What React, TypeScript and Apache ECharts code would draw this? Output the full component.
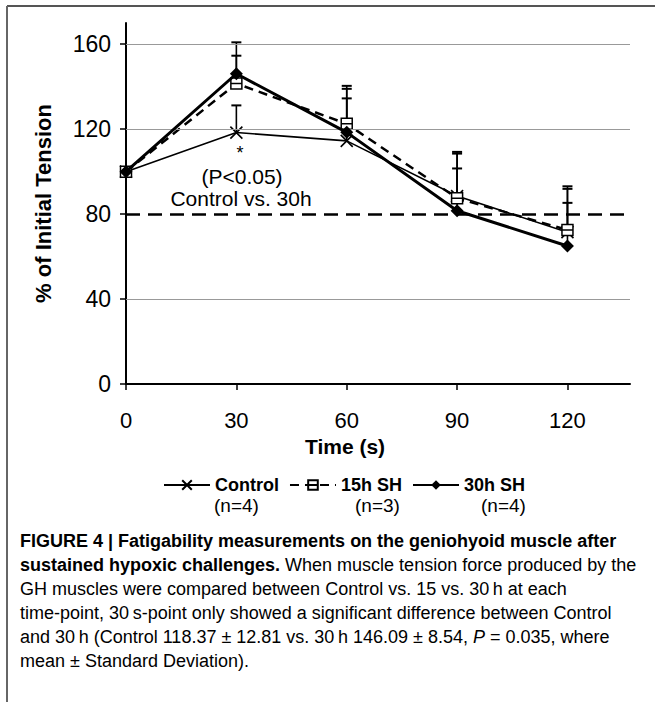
import React, { useEffect, useRef } from "react";
import * as echarts from "echarts";

const times = [0, 30, 60, 90, 120];
const xTicks = [0, 30, 60, 90, 120];
const yTicks = [0, 40, 80, 120, 160];
const controlMean = [100, 118.4, 114.5, 88.5, 71.5];
const controlTop = [100, 131.2, 134.5, 109.3, 91.9];
const sh15Mean = [100, 141.5, 122.5, 87.5, 72.5];
const sh15Top = [100, 160.9, 140.4, 108.5, 93.1];
const sh30Mean = [100, 146.1, 118.5, 81.6, 65];
const sh30Top = [100, 154.6, 139, 101.5, 85.3];
const gridValues = [40, 120, 160];
const thresholdValue = 80;
const seriesNames = ["Control", "15h SH", "30h SH"];
const nLabels = ["(n=4)", "(n=3)", "(n=4)"];
const captionLines = [
  "{b|FIGURE 4 | Fatigability measurements on the geniohyoid muscle after}",
  "{b|sustained hypoxic challenges.}{n| When muscle tension force produced by the}",
  "{n|GH muscles were compared between Control vs. 15 vs. 30\u2009h at each}",
  "{n|time-point, 30\u2009s-point only showed a significant difference between Control}",
  "{n|and 30\u2009h (Control 118.37 \u00b1 12.81 vs. 30\u2009h 146.09 \u00b1 8.54, }{i|P}{n| = 0.035, where}",
  "{n|mean \u00b1 Standard Deviation).}",
];

const FONT = "'Liberation Sans', Arial, sans-serif";

function errorBar(mean: number[], top: number[]) {
  return times.map((t, i) => [t, mean[i], top[i]]);
}

const renderErr = (params: any, api: any) => {
  const lo = api.value(1);
  const hi = api.value(2);
  if (hi <= lo) return { type: "group", children: [] };
  const p0 = api.coord([api.value(0), lo]);
  const p1 = api.coord([api.value(0), hi]);
  const w = 5;
  return {
    type: "group",
    children: [
      { type: "line", shape: { x1: p0[0], y1: p0[1], x2: p1[0], y2: p1[1] }, style: { stroke: "#000", lineWidth: 1.6 } },
      { type: "line", shape: { x1: p1[0] - w, y1: p1[1], x2: p1[0] + w, y2: p1[1] }, style: { stroke: "#000", lineWidth: 2 } },
    ],
  };
};

export default function App() {
  const ref = useRef<HTMLDivElement>(null);
  useEffect(() => {
    if (!ref.current) return;
    const chart = echarts.init(ref.current, null, { renderer: "svg" });
    const rich = {
      b: { fontFamily: FONT, fontSize: 18, fontWeight: "bold", color: "#231f20" },
      n: { fontFamily: FONT, fontSize: 18, color: "#231f20" },
      i: { fontFamily: FONT, fontSize: 18, fontStyle: "italic", color: "#231f20" },
    };
    const graphics: any[] = [
      { type: "line", shape: { x1: 7, y1: 6, x2: 655, y2: 6 }, style: { stroke: "#555", lineWidth: 2 } },
      { type: "line", shape: { x1: 7, y1: 6, x2: 7, y2: 702 }, style: { stroke: "#666", lineWidth: 2 } },
      { type: "text", x: 240, y: 153, style: { text: "*", font: `18px ${FONT}`, fill: "#000", align: "center", verticalAlign: "middle" } },
      { type: "text", x: 242, y: 176, style: { text: "(P<0.05)", font: `21px ${FONT}`, fill: "#000", align: "center", verticalAlign: "middle" } },
      { type: "text", x: 241, y: 198, style: { text: "Control vs. 30h", font: `21px ${FONT}`, fill: "#000", align: "center", verticalAlign: "middle" } },
    ];
    const nX = [214, 355, 481];
    nLabels.forEach((t, i) => {
      graphics.push({ type: "text", x: nX[i], y: 505, style: { text: t, font: `19px ${FONT}`, fill: "#000", verticalAlign: "middle" } });
    });
    captionLines.forEach((t, i) => {
      graphics.push({ type: "text", x: 20, y: 541 + 24 * i, style: { text: t, rich, verticalAlign: "middle" } });
    });

    chart.setOption({
      animation: false,
      backgroundColor: "#fff",
      textStyle: { fontFamily: FONT },
      grid: { left: 126, right: 25, top: 23, bottom: 318 },
      legend: {
        data: seriesNames,
        left: 158,
        top: 471,
        itemWidth: 46,
        itemHeight: 12,
        itemGap: 10,
        textStyle: { fontFamily: FONT, fontSize: 18, fontWeight: "bold", color: "#000" },
      },
      xAxis: {
        type: "value",
        min: xTicks[0],
        max: 137,
        interval: 30,
        axisLine: { lineStyle: { color: "#000", width: 2 } },
        axisTick: { show: true, length: 6, lineStyle: { color: "#000", width: 1.5 } },
        axisLabel: { fontSize: 22, color: "#000", margin: 25, showMaxLabel: false, fontFamily: FONT },
        splitLine: { show: false },
        name: "Time (s)",
        nameLocation: "middle",
        nameGap: 52,
        nameTextStyle: { fontSize: 21, fontWeight: "bold", color: "#000", fontFamily: FONT, padding: [0, 66, 0, 0] },
      },
      yAxis: {
        type: "value",
        min: yTicks[0],
        max: 170,
        interval: 40,
        axisLine: { show: true, lineStyle: { color: "#000", width: 2 } },
        axisTick: { show: true, length: 6, lineStyle: { color: "#000", width: 1.5 } },
        axisLabel: { fontSize: 23, color: "#000", margin: 15, showMaxLabel: false, fontFamily: FONT },
        splitLine: { show: false },
        name: "% of Initial Tension",
        nameLocation: "middle",
        nameGap: 72,
        nameTextStyle: { fontSize: 22, fontWeight: "bold", color: "#000", fontFamily: FONT },
      },
      graphic: graphics,
      series: [
        {
          type: "line",
          name: "__grid",
          data: [],
          markLine: {
            silent: true,
            symbol: "none",
            label: { show: false },
            data: [
              ...gridValues.map((v) => ({ yAxis: v, lineStyle: { color: "#999", width: 1, type: "solid" } })),
              { yAxis: thresholdValue, lineStyle: { color: "#000", width: 2.5, type: [14, 8] } },
            ],
          },
          z: 1,
        },
        { type: "custom", name: "errC", data: errorBar(controlMean, controlTop), renderItem: renderErr, z: 2 },
        { type: "custom", name: "err15", data: errorBar(sh15Mean, sh15Top), renderItem: renderErr, z: 2 },
        { type: "custom", name: "err30", data: errorBar(sh30Mean, sh30Top), renderItem: renderErr, z: 2 },
        {
          type: "line",
          name: "Control",
          data: times.map((t, i) => [t, controlMean[i]]),
          symbol: "path://M0,0L10,10M10,0L0,10",
          symbolSize: 12,
          showAllSymbol: true,
          lineStyle: { color: "#000", width: 1.6 },
          itemStyle: { color: "#000", borderColor: "#000", borderWidth: 1.6 },
          z: 3,
        },
        {
          type: "line",
          name: "15h SH",
          data: times.map((t, i) => [t, sh15Mean[i]]),
          symbol: "path://M0,0L10,0L10,10L0,10ZM0,5L10,5",
          symbolSize: 11,
          lineStyle: { color: "#000", width: 2.5, type: [9, 6] },
          itemStyle: { color: "#fff", borderColor: "#000", borderWidth: 1.5 },
          z: 4,
        },
        {
          type: "line",
          name: "30h SH",
          data: times.map((t, i) => [t, sh30Mean[i]]),
          symbol: "diamond",
          symbolSize: 13,
          lineStyle: { color: "#000", width: 3 },
          itemStyle: { color: "#000" },
          z: 5,
        },
      ],
    });
    return () => chart.dispose();
  }, []);
  return <div ref={ref} style={{ position: "absolute", left: 0, top: 0, width: 655, height: 702 }} />;
}
